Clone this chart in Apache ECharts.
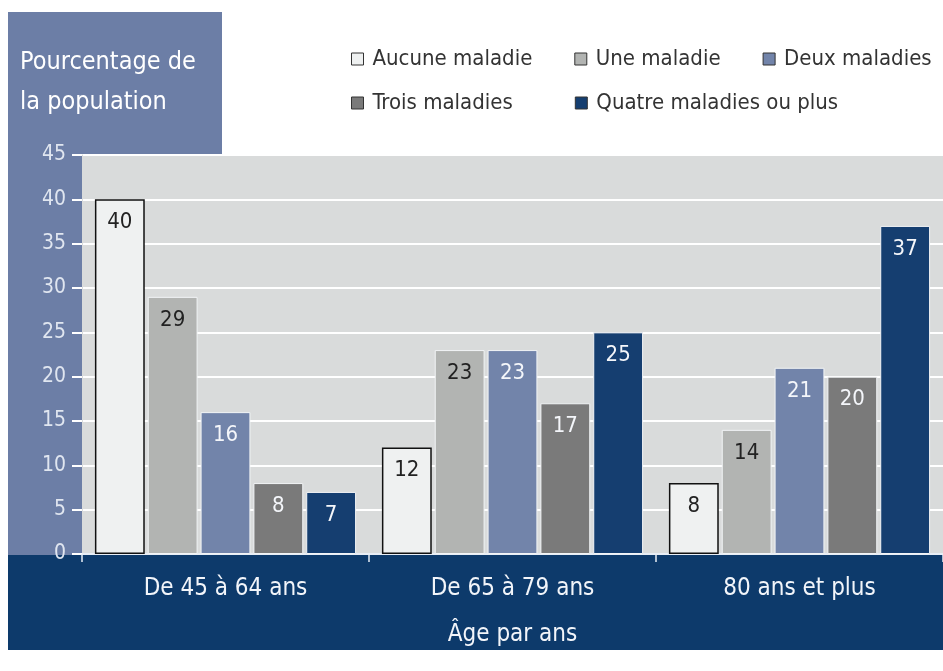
<!DOCTYPE html>
<html><head><meta charset="utf-8">
<script src="https://cdn.jsdelivr.net/npm/echarts@6/dist/echarts.min.js"></script>
<style>html,body{margin:0;padding:0;background:#fff}#c{width:943px;height:671px}</style>
</head><body><div id="c"></div>
<script>
const categories = ['De 45 à 64 ans', 'De 65 à 79 ans', '80 ans et plus'];
const seriesNames = ['Aucune maladie', 'Une maladie', 'Deux maladies', 'Trois maladies', 'Quatre maladies ou plus'];
const aucune = [40, 12, 8];
const une = [29, 23, 14];
const deux = [16, 23, 21];
const trois = [8, 17, 20];
const quatre = [7, 25, 37];
const yTicks = [0, 5, 10, 15, 20, 25, 30, 35, 40, 45];
const yTitle = 'Pourcentage de\nla population';
const xTitle = 'Âge par ans';

const FONT = '"DejaVu Sans Condensed", "Liberation Sans Narrow", sans-serif';
const colors = ['#eff1f1', '#b2b4b2', '#7284aa', '#7a7a7a', '#153e70'];
const labelColors = ['#222', '#222', '#f4f6fa', '#f4f6fa', '#f4f6fa'];
const values = [aucune, une, deux, trois, quatre];

const chart = echarts.init(document.getElementById('c'), null, {renderer: 'canvas'});
const series = values.map((v, i) => ({
  name: seriesNames[i],
  type: 'bar',
  data: v,
  barGap: '6%',
  barCategoryGap: '9%',
  itemStyle: {
    color: colors[i],
    borderColor: i === 0 ? '#111' : '#f2f4f6',
    borderWidth: i === 0 ? 1.5 : 1
  },
  label: {
    show: true, position: 'insideTop', distance: 12,
    color: labelColors[i], fontSize: 22, fontFamily: FONT
  }
}));

const legendText = {fontSize: 22, fontFamily: FONT, color: '#333', padding: [0, 0, 0, 4]};
chart.setOption({
  animation: false,
  backgroundColor: '#ffffff',
  graphic: [
    {type: 'rect', z: -10, shape: {x: 8, y: 12, width: 214, height: 145}, style: {fill: '#6c7ea6'}},
    {type: 'rect', z: -10, shape: {x: 8, y: 150, width: 74, height: 406}, style: {fill: '#6c7ea6'}},
    {type: 'rect', z: -10, shape: {x: 8, y: 555, width: 935, height: 95}, style: {fill: '#0d3a6b'}},
    {type: 'text', left: 20, top: 42, style: {text: yTitle, fill: '#ffffff', font: '25px ' + FONT, lineHeight: 40}}
  ],
  grid: {left: 82, right: 0, top: 155, bottom: 117, show: true, backgroundColor: '#d9dbdb', borderWidth: 0},
  legend: [
    {data: seriesNames.slice(0, 3), left: 346, top: 43, width: 597, itemWidth: 12, itemHeight: 12, itemGap: 42,
     textStyle: legendText, icon: 'rect', itemStyle: {borderColor: '#333', borderWidth: 1}},
    {data: seriesNames.slice(3), left: 346, top: 87, width: 597, itemWidth: 12, itemHeight: 12, itemGap: 62,
     textStyle: legendText, icon: 'rect', itemStyle: {borderColor: '#333', borderWidth: 1}}
  ],
  xAxis: {
    type: 'category', data: categories,
    name: xTitle, nameLocation: 'middle', nameGap: 69,
    nameTextStyle: {color: '#f2f5fa', fontSize: 24, fontFamily: FONT},
    axisLine: {show: true, lineStyle: {color: '#e8eef6', width: 2}},
    axisTick: {show: true, length: 8, lineStyle: {color: '#e8eef6', width: 1.5}},
    axisLabel: {color: '#f2f5fa', fontSize: 24, fontFamily: FONT, margin: 23}
  },
  yAxis: {
    type: 'value', min: 0, max: 45, interval: 5,
    axisLine: {show: true, lineStyle: {color: '#d9dbdb', width: 1}},
    axisTick: {show: true, inside: false, length: 10, lineStyle: {color: '#ffffff', width: 2}},
    axisLabel: {color: '#e0e6f0', fontSize: 21, fontFamily: FONT, margin: 16,
      formatter: v => yTicks.includes(v) ? String(v) : ''},
    splitLine: {show: true, lineStyle: {color: '#ffffff', width: 2}}
  },
  series: series
});
</script></body></html>
